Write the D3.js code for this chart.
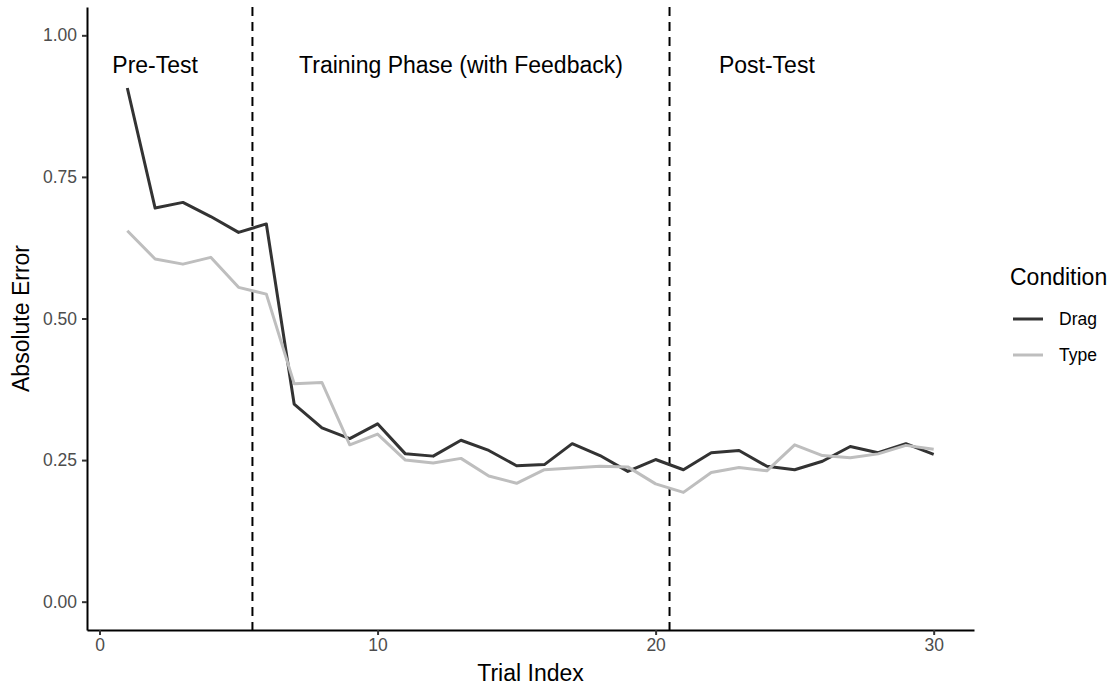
<!DOCTYPE html>
<html>
<head>
<meta charset="utf-8">
<script src="https://cdn.jsdelivr.net/npm/d3@7"></script>
<style>
  body { margin: 0; background: #fff; }
  text { font-family: "Liberation Sans", Arial, Helvetica, sans-serif; }
</style>
</head>
<body>
<div id="chart"></div>
<script>
// Data
var trials = d3.range(1, 31);
var dragError = [0.907, 0.695, 0.705, 0.680, 0.652, 0.667, 0.349, 0.307, 0.288, 0.314,
                 0.261, 0.257, 0.285, 0.267, 0.240, 0.242, 0.279, 0.258, 0.230, 0.251,
                 0.233, 0.263, 0.267, 0.239, 0.233, 0.248, 0.274, 0.263, 0.279, 0.260];
var typeError = [0.655, 0.605, 0.596, 0.608, 0.555, 0.543, 0.385, 0.387, 0.277, 0.296,
                 0.250, 0.245, 0.253, 0.222, 0.209, 0.233, 0.236, 0.239, 0.238, 0.208,
                 0.193, 0.228, 0.237, 0.231, 0.277, 0.258, 0.254, 0.261, 0.276, 0.269];
var conditions = ["Drag", "Type"];
var colors = ["#333333", "#bebebe"];
var phaseBreaks = [5.5, 20.5];
var phaseLabels = [
  { x: 2, label: "Pre-Test" },
  { x: 13, label: "Training Phase (with Feedback)" },
  { x: 24, label: "Post-Test" }
];
var xTicks = [0, 10, 20, 30];
var yTicks = [0, 0.25, 0.5, 0.75, 1];

var W = 1114, H = 689;
var plotLeft = 87, plotRight = 974, plotTop = 7, plotBottom = 630;

var svg = d3.select("#chart")
    .append("svg")
    .attr("width", W)
    .attr("height", H);

// Scales (ggplot style 5% expansion)
var x = d3.scaleLinear().domain([-0.45, 31.45]).range([plotLeft, plotRight]);
var y = d3.scaleLinear().domain([-0.05, 1.05]).range([plotBottom, plotTop]);

// Phase dividers
svg.selectAll(".vline")
    .data(phaseBreaks)
    .enter().append("line")
    .attr("x1", function (d) { return x(d); })
    .attr("x2", function (d) { return x(d); })
    .attr("y1", plotTop)
    .attr("y2", plotBottom)
    .attr("stroke", "#000")
    .attr("stroke-width", 2)
    .attr("stroke-dasharray", "9,6");

// Lines
var line = d3.line()
    .x(function (d, i) { return x(trials[i]); })
    .y(function (d) { return y(d); });

var series = [dragError, typeError];
svg.selectAll(".series")
    .data(series)
    .enter().append("path")
    .attr("d", line)
    .attr("fill", "none")
    .attr("stroke", function (d, i) { return colors[i]; })
    .attr("stroke-width", 3)
    .attr("stroke-linejoin", "round");

// Phase labels
svg.selectAll(".phase")
    .data(phaseLabels)
    .enter().append("text")
    .attr("x", function (d) { return x(d.x); })
    .attr("y", y(0.95))
    .attr("dy", "0.4em")
    .attr("text-anchor", "middle")
    .attr("font-size", "23px")
    .attr("fill", "#000")
    .text(function (d) { return d.label; });

// X axis
var xAxis = svg.append("g")
    .attr("transform", "translate(0," + plotBottom + ")")
    .call(d3.axisBottom(x).tickValues(xTicks).tickSizeInner(5).tickSizeOuter(0)
        .tickPadding(4).tickFormat(d3.format("d")));
xAxis.attr("font-size", null).attr("font-family", null);
xAxis.select(".domain").attr("stroke", "#000").attr("stroke-width", 2);
xAxis.selectAll(".tick line").attr("stroke", "#333").attr("stroke-width", 2);
xAxis.selectAll(".tick text").attr("fill", "#4d4d4d").style("font-size", "17.5px");

// Y axis
var yAxis = svg.append("g")
    .attr("transform", "translate(" + plotLeft + ",0)")
    .call(d3.axisLeft(y).tickValues(yTicks).tickSizeInner(5).tickSizeOuter(0)
        .tickPadding(5).tickFormat(d3.format(".2f")));
yAxis.attr("font-size", null).attr("font-family", null);
yAxis.select(".domain").attr("stroke", "#000").attr("stroke-width", 2);
yAxis.selectAll(".tick line").attr("stroke", "#333").attr("stroke-width", 2);
yAxis.selectAll(".tick text").attr("fill", "#4d4d4d").style("font-size", "17.5px");

// Axis titles
svg.append("text")
    .attr("x", (plotLeft + plotRight) / 2)
    .attr("y", 681)
    .attr("text-anchor", "middle")
    .attr("font-size", "23px")
    .text("Trial Index");

svg.append("text")
    .attr("transform", "translate(29," + (plotTop + plotBottom) / 2 + ") rotate(-90)")
    .attr("text-anchor", "middle")
    .attr("font-size", "23px")
    .text("Absolute Error");

// Legend
var legend = svg.append("g").attr("transform", "translate(1010,0)");
legend.append("text")
    .attr("x", 0)
    .attr("y", 285)
    .attr("font-size", "23px")
    .text("Condition");

var keys = legend.selectAll(".key")
    .data(conditions)
    .enter().append("g")
    .attr("transform", function (d, i) { return "translate(0," + (319 + i * 36) + ")"; });
keys.append("line")
    .attr("x1", 3).attr("x2", 33)
    .attr("stroke", function (d, i) { return colors[i]; })
    .attr("stroke-width", 3);
keys.append("text")
    .attr("x", 49)
    .attr("dy", "0.35em")
    .attr("font-size", "17.5px")
    .text(function (d) { return d; });
</script>
</body>
</html>
